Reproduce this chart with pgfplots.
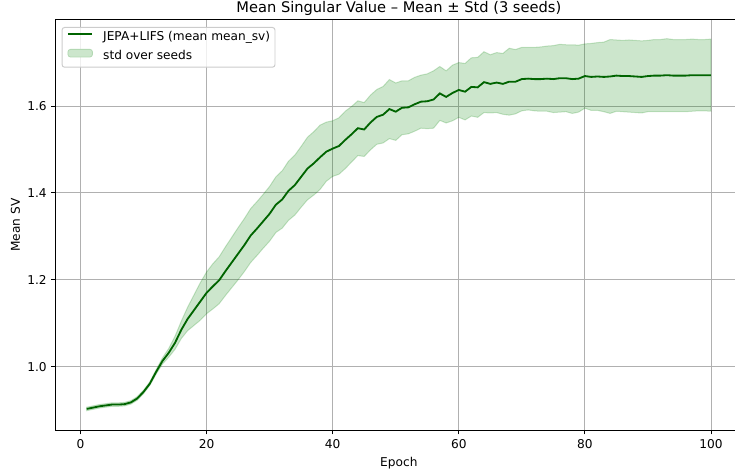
\documentclass[border=0pt]{standalone}
\usepackage{fontspec}
\setmainfont{DejaVu Sans}
\usepackage{pgfplots}
\usepackage{pgfplotstable}
\usepgfplotslibrary{fillbetween}
\pgfplotsset{compat=1.18}

\definecolor{meanline}{HTML}{006400}
\definecolor{bandfill}{HTML}{008000}
\definecolor{bandpatch}{RGB}{204,230,204}
\definecolor{bandedge}{RGB}{178,216,178}
\definecolor{gridgray}{HTML}{B0B0B0}
\definecolor{legendedge}{HTML}{CCCCCC}

% mean of mean_sv over 3 seeds and its std, per epoch
\pgfplotstableread{
epoch mean std
1 0.903 0.004
2 0.906 0.004
3 0.909 0.004
4 0.911 0.004
5 0.913 0.004
6 0.913 0.004
7 0.914 0.004
8 0.918 0.004
9 0.927 0.004
10 0.942 0.004
11 0.961 0.004
12 0.988 0.005
13 1.013 0.007
14 1.032 0.010
15 1.055 0.015
16 1.085 0.020
17 1.110 0.027
18 1.130 0.035
19 1.150 0.043
20 1.170 0.048
21 1.185 0.052
22 1.199 0.054
23 1.220 0.056
24 1.240 0.058
25 1.260 0.060
26 1.280 0.061
27 1.302 0.062
28 1.318 0.062
29 1.335 0.062
30 1.352 0.063
31 1.373 0.064
32 1.385 0.066
33 1.405 0.068
34 1.418 0.069
35 1.437 0.070
36 1.456 0.072
37 1.468 0.073
38 1.482 0.074
39 1.495 0.068
40 1.502 0.064
41 1.508 0.065
42 1.522 0.066
43 1.535 0.064
44 1.549 0.063
45 1.546 0.062
46 1.562 0.063
47 1.575 0.063
48 1.580 0.065
49 1.593 0.068
50 1.587 0.066
51 1.596 0.062
52 1.597 0.061
53 1.604 0.062
54 1.610 0.061
55 1.611 0.063
56 1.615 0.066
57 1.629 0.062
58 1.621 0.060
59 1.630 0.064
60 1.637 0.063
61 1.633 0.065
62 1.644 0.067
63 1.643 0.069
64 1.655 0.070
65 1.651 0.067
66 1.654 0.069
67 1.651 0.070
68 1.656 0.077
69 1.656 0.074
70 1.662 0.073
71 1.663 0.072
72 1.662 0.073
73 1.662 0.074
74 1.663 0.075
75 1.662 0.077
76 1.664 0.078
77 1.664 0.077
78 1.662 0.079
79 1.663 0.077
80 1.669 0.074
81 1.667 0.077
82 1.668 0.078
83 1.667 0.080
84 1.668 0.085
85 1.670 0.082
86 1.669 0.082
87 1.669 0.083
88 1.668 0.083
89 1.667 0.083
90 1.669 0.082
91 1.670 0.083
92 1.670 0.083
93 1.671 0.084
94 1.670 0.083
95 1.670 0.083
96 1.670 0.083
97 1.671 0.083
98 1.671 0.082
99 1.671 0.082
100 1.671 0.083
}\svtable

\begin{document}
\begin{tikzpicture}
\begin{axis}[
  scale only axis,
  width=686.7bp, height=410bp,
  xmin=-3.95, xmax=104.95,
  ymin=0.8545, ymax=1.798,
  xtick={0,20,40,60,80,100},
  ytick={1.0,1.2,1.4,1.6},
  yticklabel style={/pgf/number format/fixed, /pgf/number format/fixed zerofill,
                    /pgf/number format/precision=1},
  /pgf/number format/assume math mode=true,
  ticklabel style={font=\fontsize{12.2}{14}\selectfont},
  xticklabel style={yshift=-1.5bp},
  yticklabel style={xshift=-1bp},
  tick pos=left,
  tick align=outside,
  major tick length=4.3bp,
  tick style={black, line width=0.98bp},
  axis line style={black, line width=0.98bp},
  grid=major,
  major grid style={gridgray, line width=0.98bp},
  title={Mean Singular Value – Mean ± Std (3 seeds)},
  title style={font=\fontsize{14.7}{17}\selectfont, at={(axis description cs:0.5,1)}, anchor=base, yshift=1.3bp},
  xlabel={Epoch},
  xlabel style={font=\fontsize{12.2}{14}\selectfont, at={(axis description cs:0.5,-0.089)}, anchor=base},
  ylabel={Mean SV},
  ylabel style={font=\fontsize{12.2}{14}\selectfont, at={(axis description cs:-0.0517,0.5)}, anchor=base},
  legend cell align=left,
  legend style={
    at={(axis description cs:0,1)}, anchor=north west,
    xshift=6.1bp, yshift=-7bp,
    draw=legendedge, line width=0.98bp, rounded corners=2.5bp,
    fill=white, fill opacity=0.8, text opacity=1,
    font=\fontsize{12.2}{14}\selectfont,
    inner xsep=4.9bp, inner ysep=3.5bp, row sep=4bp,
    nodes={inner xsep=0bp, inner ysep=1bp, text height=9bp, text depth=3bp},
    /tikz/every odd column/.append style={column sep=9.8bp},
  },
]
  % band: mean +/- std
  \addplot[name path=upper, draw=none, forget plot]
    table[x=epoch, y expr=\thisrow{mean}+\thisrow{std}] {\svtable};
  \addplot[name path=lower, draw=none, forget plot]
    table[x=epoch, y expr=\thisrow{mean}-\thisrow{std}] {\svtable};
  \addplot[fill=bandfill, fill opacity=0.2, draw=bandfill, draw opacity=0.2,
           line width=1bp, forget plot]
    fill between[of=upper and lower];

  % mean curve
  \addplot[meanline, line width=1.83bp, forget plot]
    table[x=epoch, y=mean] {\svtable};

  \addlegendimage{legend image code/.code={\draw[meanline, line width=2bp, opacity=1] (0bp,3.5bp) -- (24.4bp,3.5bp);}}
  \addlegendentry{JEPA+LIFS (mean mean\_sv)}
  \addlegendimage{legend image code/.code={\filldraw[fill=bandpatch, draw=bandedge, line width=0.8bp, opacity=1]
    (0bp,-0.3bp) rectangle (24.4bp,7.3bp);}}
  \addlegendentry{std over seeds}

  \coordinate (frameSW) at (rel axis cs:0,0);
\end{axis}
\pgfresetboundingbox
\path ([shift={(-55.5bp,-42bp)}]frameSW) rectangle ([shift={(679.5bp,430bp)}]frameSW);
\end{tikzpicture}
\end{document}
